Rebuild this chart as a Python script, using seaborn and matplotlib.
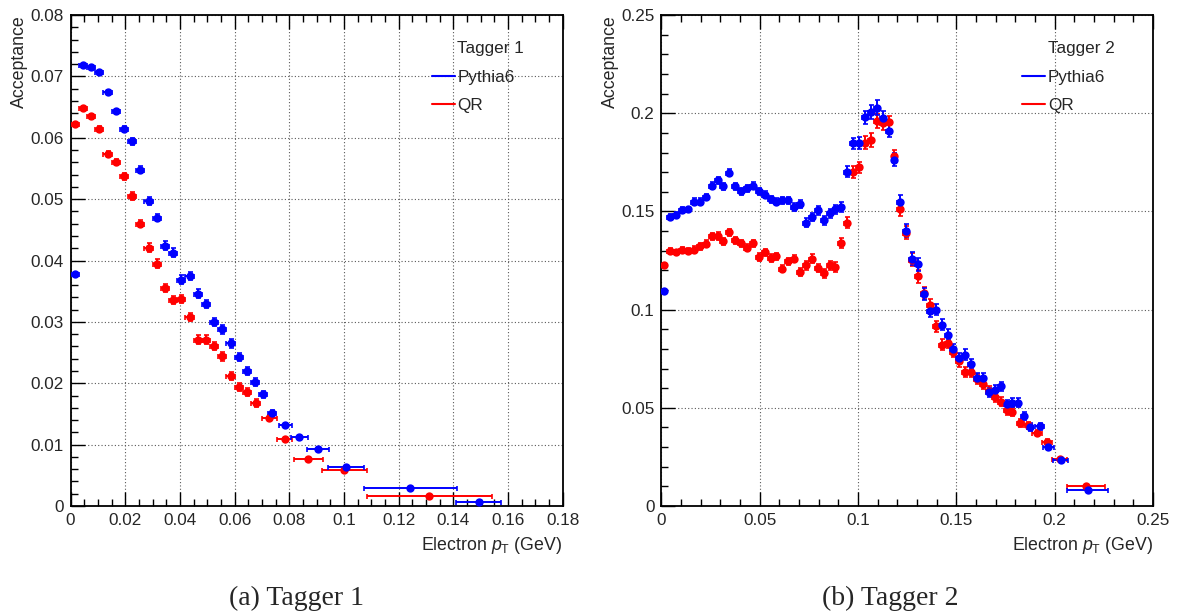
import pandas as pd
import seaborn as sns
import matplotlib.pyplot as plt
from matplotlib.lines import Line2D
from matplotlib.ticker import MultipleLocator, FuncFormatter

# ---------------- Tagger 1 ----------------
t1_py_x = [0.0015, 0.0045, 0.0075, 0.0105, 0.0135, 0.0165, 0.0195, 0.0225, 0.0255, 0.0285,
           0.0315, 0.0345, 0.0375, 0.0405, 0.0435, 0.0465, 0.0495, 0.0525, 0.0555, 0.0585,
           0.0615, 0.0645, 0.0675, 0.0705, 0.0737, 0.0786, 0.0837, 0.0905, 0.1008, 0.1242,
           0.1493]
t1_py_y = [0.0378, 0.0719, 0.0715, 0.0707, 0.0674, 0.0643, 0.0614, 0.0594, 0.0548, 0.0497,
           0.0470, 0.0424, 0.0413, 0.0369, 0.0375, 0.0346, 0.0329, 0.0300, 0.0288, 0.0265,
           0.0243, 0.0220, 0.0202, 0.0182, 0.0151, 0.0132, 0.0113, 0.0093, 0.0063, 0.0029,
           0.0006]
t1_py_xerr = [0.0015, 0.0015, 0.0015, 0.0015, 0.0015, 0.0015, 0.0015, 0.0015, 0.0015, 0.0015,
              0.0015, 0.0015, 0.0015, 0.0015, 0.0015, 0.0015, 0.0015, 0.0015, 0.0015, 0.0015,
              0.0015, 0.0015, 0.0015, 0.0015, 0.0016, 0.0024, 0.0032, 0.0041, 0.0067, 0.0170,
              0.0083]
t1_py_yerr = [0.0002, 0.0002, 0.0003, 0.0003, 0.0004, 0.0004, 0.0005, 0.0005, 0.0006, 0.0006,
              0.0006, 0.0007, 0.0007, 0.0007, 0.0007, 0.0007, 0.0007, 0.0007, 0.0007, 0.0007,
              0.0007, 0.0007, 0.0006, 0.0006, 0.0005, 0.0004, 0.0003, 0.0003, 0.0002, 0.0001,
              0.0001]

t1_qr_x = [0.0015, 0.0045, 0.0075, 0.0105, 0.0135, 0.0165, 0.0195, 0.0225, 0.0255, 0.0285,
           0.0315, 0.0345, 0.0375, 0.0405, 0.0435, 0.0465, 0.0495, 0.0525, 0.0555, 0.0585,
           0.0615, 0.0645, 0.0677, 0.0727, 0.0783, 0.0869, 0.1002, 0.1313]
t1_qr_y = [0.0623, 0.0648, 0.0635, 0.0615, 0.0574, 0.0560, 0.0537, 0.0505, 0.0460, 0.0421,
           0.0395, 0.0355, 0.0336, 0.0337, 0.0308, 0.0271, 0.0271, 0.0261, 0.0244, 0.0212,
           0.0194, 0.0186, 0.0168, 0.0143, 0.0109, 0.0077, 0.0058, 0.0017]
t1_qr_xerr = [0.0015, 0.0015, 0.0015, 0.0015, 0.0015, 0.0015, 0.0015, 0.0015, 0.0015, 0.0015,
              0.0015, 0.0015, 0.0015, 0.0015, 0.0015, 0.0015, 0.0015, 0.0015, 0.0015, 0.0015,
              0.0015, 0.0015, 0.0016, 0.0027, 0.0028, 0.0053, 0.0083, 0.0230]
t1_qr_yerr = [0.0002, 0.0003, 0.0004, 0.0004, 0.0005, 0.0005, 0.0006, 0.0006, 0.0006, 0.0007,
              0.0007, 0.0007, 0.0007, 0.0007, 0.0007, 0.0007, 0.0007, 0.0007, 0.0007, 0.0007,
              0.0007, 0.0007, 0.0006, 0.0005, 0.0004, 0.0003, 0.0002, 0.0001]

# ---------------- Tagger 2 ----------------
t2_py_x = [0.0015, 0.0045, 0.0075, 0.0105, 0.0135, 0.0165, 0.0195, 0.0225, 0.0255, 0.0285,
           0.0315, 0.0345, 0.0375, 0.0405, 0.0435, 0.0465, 0.0495, 0.0525, 0.0555, 0.0585,
           0.0615, 0.0645, 0.0675, 0.0705, 0.0735, 0.0765, 0.0795, 0.0825, 0.0855, 0.0885,
           0.0915, 0.0945, 0.0975, 0.1005, 0.1035, 0.1065, 0.1095, 0.1125, 0.1155, 0.1185,
           0.1215, 0.1245, 0.1275, 0.1305, 0.1335, 0.1365, 0.1395, 0.1425, 0.1455, 0.1485,
           0.1515, 0.1545, 0.1575, 0.1605, 0.1635, 0.1665, 0.1695, 0.1725, 0.1755, 0.1785,
           0.1815, 0.1845, 0.1875, 0.1924, 0.1968, 0.2030, 0.2168]
t2_py_y = [0.1094, 0.1472, 0.1481, 0.1508, 0.1510, 0.1549, 0.1549, 0.1574, 0.1630, 0.1659,
           0.1629, 0.1698, 0.1629, 0.1603, 0.1617, 0.1630, 0.1603, 0.1586, 0.1562, 0.1549,
           0.1557, 0.1557, 0.1523, 0.1537, 0.1442, 0.1472, 0.1506, 0.1455, 0.1490, 0.1511,
           0.1523, 0.1701, 0.1846, 0.1849, 0.1979, 0.2007, 0.2028, 0.1974, 0.1910, 0.1763,
           0.1549, 0.1402, 0.1260, 0.1231, 0.1078, 0.0992, 0.1000, 0.0924, 0.0873, 0.0797,
           0.0754, 0.0771, 0.0722, 0.0654, 0.0654, 0.0579, 0.0593, 0.0611, 0.0517, 0.0527,
           0.0527, 0.0457, 0.0402, 0.0406, 0.0300, 0.0233, 0.0080]
t2_py_xerr = [0.0015, 0.0015, 0.0015, 0.0015, 0.0015, 0.0015, 0.0015, 0.0015, 0.0015, 0.0015,
              0.0015, 0.0015, 0.0015, 0.0015, 0.0015, 0.0015, 0.0015, 0.0015, 0.0015, 0.0015,
              0.0015, 0.0015, 0.0015, 0.0015, 0.0015, 0.0015, 0.0015, 0.0015, 0.0015, 0.0015,
              0.0015, 0.0015, 0.0015, 0.0015, 0.0015, 0.0015, 0.0015, 0.0015, 0.0015, 0.0015,
              0.0015, 0.0015, 0.0015, 0.0015, 0.0015, 0.0015, 0.0015, 0.0015, 0.0015, 0.0015,
              0.0015, 0.0015, 0.0015, 0.0015, 0.0015, 0.0015, 0.0015, 0.0015, 0.0015, 0.0015,
              0.0015, 0.0015, 0.0015, 0.0022, 0.0027, 0.0038, 0.0105]
t2_py_yerr = [0.0010, 0.0015, 0.0015, 0.0015, 0.0015, 0.0017, 0.0017, 0.0017, 0.0018, 0.0018,
              0.0018, 0.0018, 0.0018, 0.0018, 0.0018, 0.0018, 0.0018, 0.0018, 0.0018, 0.0018,
              0.0018, 0.0018, 0.0020, 0.0020, 0.0022, 0.0022, 0.0022, 0.0022, 0.0024, 0.0024,
              0.0024, 0.0028, 0.0030, 0.0030, 0.0033, 0.0035, 0.0037, 0.0035, 0.0033, 0.0033,
              0.0033, 0.0033, 0.0033, 0.0032, 0.0030, 0.0030, 0.0029, 0.0028, 0.0027, 0.0027,
              0.0026, 0.0026, 0.0025, 0.0025, 0.0024, 0.0024, 0.0024, 0.0023, 0.0022, 0.0022,
              0.0021, 0.0020, 0.0019, 0.0017, 0.0014, 0.0010, 0.0006]

t2_qr_x = [0.0015, 0.0045, 0.0075, 0.0105, 0.0135, 0.0165, 0.0195, 0.0225, 0.0255, 0.0285,
           0.0315, 0.0345, 0.0375, 0.0405, 0.0435, 0.0465, 0.0495, 0.0525, 0.0555, 0.0585,
           0.0615, 0.0645, 0.0675, 0.0705, 0.0735, 0.0765, 0.0795, 0.0825, 0.0855, 0.0885,
           0.0915, 0.0945, 0.0975, 0.1005, 0.1035, 0.1065, 0.1095, 0.1125, 0.1155, 0.1185,
           0.1215, 0.1245, 0.1275, 0.1305, 0.1335, 0.1365, 0.1395, 0.1425, 0.1455, 0.1485,
           0.1515, 0.1545, 0.1575, 0.1605, 0.1635, 0.1665, 0.1695, 0.1725, 0.1755, 0.1785,
           0.1825, 0.1864, 0.1910, 0.1961, 0.2026, 0.2160]
t2_qr_y = [0.1226, 0.1299, 0.1291, 0.1303, 0.1301, 0.1306, 0.1323, 0.1335, 0.1374, 0.1375,
           0.1347, 0.1393, 0.1352, 0.1337, 0.1314, 0.1337, 0.1268, 0.1291, 0.1263, 0.1272,
           0.1209, 0.1247, 0.1260, 0.1192, 0.1226, 0.1260, 0.1212, 0.1184, 0.1226, 0.1218,
           0.1340, 0.1442, 0.1701, 0.1724, 0.1849, 0.1863, 0.1961, 0.1951, 0.1954, 0.1781,
           0.1511, 0.1392, 0.1255, 0.1170, 0.1085, 0.1022, 0.0915, 0.0822, 0.0830, 0.0784,
           0.0736, 0.0683, 0.0683, 0.0648, 0.0620, 0.0588, 0.0553, 0.0530, 0.0488, 0.0478,
           0.0423, 0.0411, 0.0372, 0.0328, 0.0238, 0.0101]
t2_qr_xerr = [0.0015, 0.0015, 0.0015, 0.0015, 0.0015, 0.0015, 0.0015, 0.0015, 0.0015, 0.0015,
              0.0015, 0.0015, 0.0015, 0.0015, 0.0015, 0.0015, 0.0015, 0.0015, 0.0015, 0.0015,
              0.0015, 0.0015, 0.0015, 0.0015, 0.0015, 0.0015, 0.0015, 0.0015, 0.0015, 0.0015,
              0.0015, 0.0015, 0.0015, 0.0015, 0.0015, 0.0015, 0.0015, 0.0015, 0.0015, 0.0015,
              0.0015, 0.0015, 0.0015, 0.0015, 0.0015, 0.0015, 0.0015, 0.0015, 0.0015, 0.0015,
              0.0015, 0.0015, 0.0015, 0.0015, 0.0015, 0.0015, 0.0015, 0.0015, 0.0015, 0.0015,
              0.0018, 0.0020, 0.0024, 0.0026, 0.0038, 0.0097]
t2_qr_yerr = [0.0010, 0.0015, 0.0015, 0.0015, 0.0015, 0.0017, 0.0017, 0.0017, 0.0018, 0.0018,
              0.0018, 0.0018, 0.0018, 0.0018, 0.0018, 0.0018, 0.0018, 0.0018, 0.0018, 0.0018,
              0.0018, 0.0018, 0.0020, 0.0020, 0.0022, 0.0022, 0.0022, 0.0022, 0.0024, 0.0024,
              0.0024, 0.0028, 0.0030, 0.0030, 0.0033, 0.0035, 0.0037, 0.0035, 0.0033, 0.0033,
              0.0033, 0.0033, 0.0033, 0.0032, 0.0030, 0.0030, 0.0029, 0.0028, 0.0027, 0.0027,
              0.0026, 0.0026, 0.0025, 0.0025, 0.0024, 0.0024, 0.0024, 0.0023, 0.0022, 0.0022,
              0.0020, 0.0019, 0.0017, 0.0014, 0.0010, 0.0006]

samples = ["QR", "Pythia6"]
colors = {"Pythia6": "#0000ff", "QR": "#ff0000"}


def make_df(px, py, pxe, pye, qx, qy, qxe, qye):
    a = pd.DataFrame({"x": qx, "y": qy, "xerr": qxe, "yerr": qye, "sample": "QR"})
    b = pd.DataFrame({"x": px, "y": py, "xerr": pxe, "yerr": pye, "sample": "Pythia6"})
    return pd.concat([a, b], ignore_index=True)


df1 = make_df(t1_py_x, t1_py_y, t1_py_xerr, t1_py_yerr, t1_qr_x, t1_qr_y, t1_qr_xerr, t1_qr_yerr)
df2 = make_df(t2_py_x, t2_py_y, t2_py_xerr, t2_py_yerr, t2_qr_x, t2_qr_y, t2_qr_xerr, t2_qr_yerr)

sns.set_style("white")
plt.rcParams["font.family"] = ["Liberation Sans", "DejaVu Sans"]
plt.rcParams["mathtext.fontset"] = "custom"
plt.rcParams["mathtext.rm"] = "Liberation Sans"
plt.rcParams["mathtext.it"] = "Liberation Sans:italic"

fig = plt.figure(figsize=(11.77, 6.13), dpi=100)
ax1 = fig.add_axes([0.060, 0.1745, 0.418, 0.801])
ax2 = fig.add_axes([0.562, 0.1745, 0.4176, 0.801])

fmt = FuncFormatter(lambda v, p: f"{v:g}" if abs(v) > 1e-9 else "0")


def draw(ax, df, xmax, ymax, xmaj, xmin, ymaj, ymin, title):
    for s in samples:
        d = df[df["sample"] == s]
        ax.errorbar(d["x"], d["y"], xerr=d["xerr"], yerr=d["yerr"], fmt="none",
                    ecolor=colors[s], elinewidth=1.4, capsize=1.8, capthick=1.2, zorder=3)
        sns.scatterplot(data=d, x="x", y="y", color=colors[s], s=36, linewidth=0,
                        ax=ax, zorder=4, legend=False)
    ax.set_xlim(0, xmax)
    ax.set_ylim(0, ymax)
    ax.xaxis.set_major_locator(MultipleLocator(xmaj))
    ax.xaxis.set_minor_locator(MultipleLocator(xmin))
    ax.yaxis.set_major_locator(MultipleLocator(ymaj))
    ax.yaxis.set_minor_locator(MultipleLocator(ymin))
    ax.xaxis.set_major_formatter(fmt)
    ax.yaxis.set_major_formatter(fmt)
    ax.grid(True, which="major", color="0.35", linestyle=(0, (1, 2)), linewidth=0.8)
    ax.tick_params(which="both", direction="in", top=True, right=False, bottom=True, left=True,
                   labelsize=12.3, width=1, color="black")
    ax.tick_params(which="major", length=10, pad=5)
    ax.tick_params(which="minor", length=5)
    for sp in ax.spines.values():
        sp.set_linewidth(1.3)
        sp.set_color("black")
    ax.set_xlabel(r"Electron $p_{\mathrm{T}}$ (GeV)", loc="right", fontsize=12.8, labelpad=5)
    ax.set_ylabel("Acceptance", loc="top", fontsize=12.8, labelpad=1.5)
    handles = [Line2D([], [], color="none"),
               Line2D([], [], color=colors["Pythia6"], lw=1.5),
               Line2D([], [], color=colors["QR"], lw=1.5)]
    ax.legend(handles, [title, "Pythia6", "QR"], loc="upper left", bbox_to_anchor=(0.734, 0.947),
              frameon=False, fontsize=12.3, handlelength=1.35, handletextpad=0.15,
              labelspacing=0.8, borderpad=0, borderaxespad=0)


draw(ax1, df1, 0.18, 0.08, 0.02, 0.005, 0.01, 0.002, "Tagger 1")
draw(ax2, df2, 0.25, 0.25, 0.05, 0.01, 0.05, 0.01, "Tagger 2")

fig.text(0.252, 0.0245, "(a) Tagger 1", family=["Liberation Serif", "DejaVu Serif"],
         fontsize=20, ha="center", va="center")
fig.text(0.756, 0.0245, "(b) Tagger 2", family=["Liberation Serif", "DejaVu Serif"],
         fontsize=20, ha="center", va="center")

fig.savefig("out.png", dpi=100)
